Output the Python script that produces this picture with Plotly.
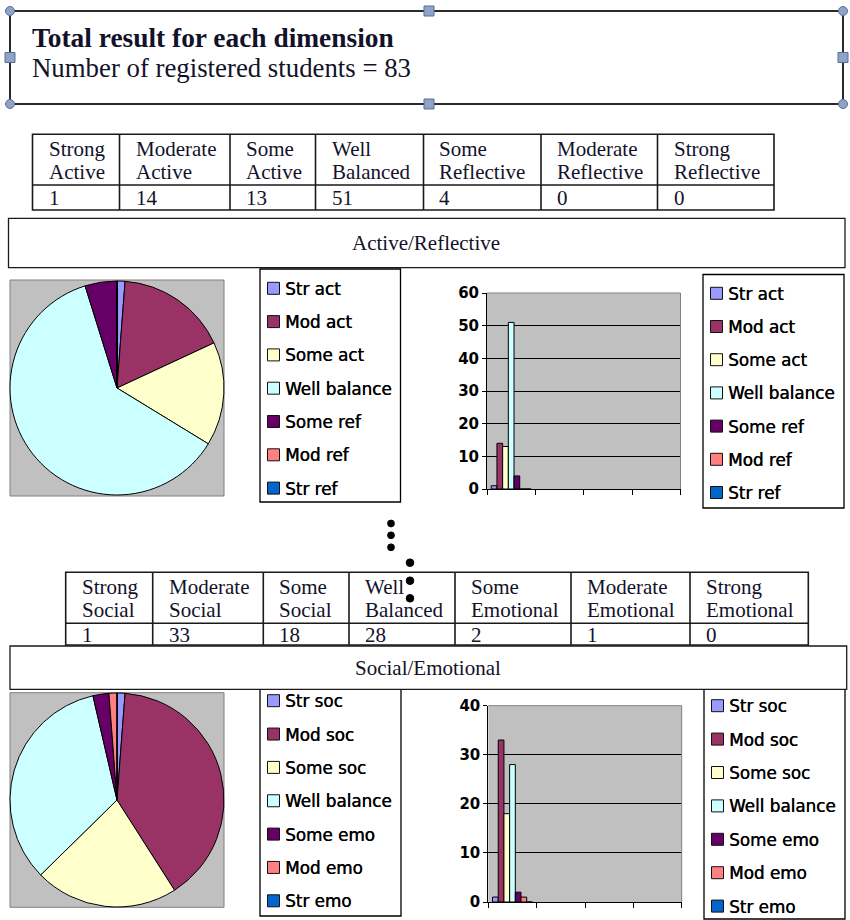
import plotly.graph_objects as go

W, H = 850, 920

# ---- data -------------------------------------------------------------
title_line = "Total result for each dimension"
subtitle_line = "Number of registered students = 83"

ar_name = "Active/Reflective"
ar_headers = [("Strong", "Active"), ("Moderate", "Active"), ("Some", "Active"),
              ("Well", "Balanced"), ("Some", "Reflective"),
              ("Moderate", "Reflective"), ("Strong", "Reflective")]
ar_labels = ["Str act", "Mod act", "Some act", "Well balance",
             "Some ref", "Mod ref", "Str ref"]
ar_counts = [1, 14, 13, 51, 4, 0, 0]

se_name = "Social/Emotional"
se_headers = [("Strong", "Social"), ("Moderate", "Social"), ("Some", "Social"),
              ("Well", "Balanced"), ("Some", "Emotional"),
              ("Moderate", "Emotional"), ("Strong", "Emotional")]
se_labels = ["Str soc", "Mod soc", "Some soc", "Well balance",
             "Some emo", "Mod emo", "Str emo"]
se_counts = [1, 33, 18, 28, 2, 1, 0]

ar_ymax = 60
se_ymax = 40

# ---- styling ----------------------------------------------------------
slice_colors = ["#9999FF", "#993366", "#FFFFCC", "#CCFFFF",
                "#660066", "#FF8080", "#0066CC"]
GREY = "#C0C0C0"
SERIF = "Liberation Serif"
SANS = "DejaVu Sans"
INK = "#12122a"


def fx(x):
    return x / W


def fy(y):
    return 1 - y / H


shapes = []
annotations = []


def rect(x0, y0, x1, y1, line="black", width=1.0, fill=None, layer="above"):
    shapes.append(dict(type="rect", xref="paper", yref="paper",
                       x0=fx(x0), x1=fx(x1), y0=fy(y1), y1=fy(y0),
                       line=dict(color=line, width=width),
                       fillcolor=fill if fill else "rgba(0,0,0,0)",
                       layer=layer))


def hline(x0, x1, y, color="black", width=1.0):
    shapes.append(dict(type="line", xref="paper", yref="paper",
                       x0=fx(x0), x1=fx(x1), y0=fy(y), y1=fy(y),
                       line=dict(color=color, width=width)))


def vline(x, y0, y1, color="black", width=1.0):
    shapes.append(dict(type="line", xref="paper", yref="paper",
                       x0=fx(x), x1=fx(x), y0=fy(y0), y1=fy(y1),
                       line=dict(color=color, width=width)))


def dot(cx, cy, r, color="black", line=None):
    shapes.append(dict(type="circle", xref="paper", yref="paper",
                       x0=fx(cx - r), x1=fx(cx + r), y0=fy(cy + r), y1=fy(cy - r),
                       fillcolor=color,
                       line=dict(color=line if line else color, width=1)))


def text(x, y, s, size, family=SERIF, color=INK, anchor="left",
         weight="normal", shadow="none"):
    annotations.append(dict(x=fx(x), y=fy(y), xref="paper", yref="paper",
                            text=s, showarrow=False, xanchor=anchor,
                            yanchor="middle",
                            font=dict(family=family, size=size, color=color,
                                      weight=weight, shadow=shadow)))


# ---- heading text box with selection handles --------------------------
rect(10, 11, 843, 104, line="#2a2a2a", width=2)
text(30, 37.5, "<b>" + title_line + "</b>", 27.4)
text(30, 67.5, subtitle_line, 26.8)
HANDLE_FILL, HANDLE_LINE = "#8EA3C6", "#5B6F94"
for hx, hy in [(10, 11), (843, 11), (10, 104), (843, 104)]:
    dot(hx, hy, 4.5, HANDLE_FILL, HANDLE_LINE)
for hx, hy in [(429, 11), (429, 104), (10, 57.5), (843, 57.5)]:
    rect(hx - 5, hy - 5, hx + 5, hy + 5, line=HANDLE_LINE, width=1, fill=HANDLE_FILL)


# ---- counts tables ----------------------------------------------------
def draw_table(cols, y_top, y_mid, y_bot, headers, counts):
    lw, lc = 1.6, "#1a1a1a"
    rect(cols[0], y_top, cols[-1], y_bot, line=lc, width=lw, fill="white")
    for cx in cols[1:-1]:
        vline(cx, y_top, y_bot, lc, lw)
    hline(cols[0], cols[-1], y_mid, lc, lw)
    for i, (h1, h2) in enumerate(headers):
        x = cols[i] + 14
        text(x, y_top + 14.5, h1, 21)
        text(x, y_top + 37.3, h2, 21)
        text(x, (y_mid + y_bot) / 2 + 0.8, str(counts[i]), 21)


draw_table([32.5, 119.5, 230, 315.5, 423.5, 541, 657.5, 774],
           134.3, 185, 210, ar_headers, ar_counts)

# ---- legends ----------------------------------------------------------
def draw_legend(x0, y0, x1, y1, first_y, step, labels):
    rect(x0, y0, x1, y1, line="black", width=1.3, fill="white")
    for i, lab in enumerate(labels):
        cy = first_y + i * step
        rect(x0 + 7.5, cy - 6, x0 + 19.5, cy + 6, line="#111111", width=1,
             fill=slice_colors[i])
        text(x0 + 23, cy + 0.5, lab, 16.8, family=SANS, color="black",
             shadow="0.4px 0px 0px #000000")


# section 1
rect(8.5, 218.3, 845, 267.7, line="#1a1a1a", width=1.3, fill="white")
text(426, 242.5, ar_name, 21, anchor="center")
rect(10, 280, 224, 496, line="#808080", width=1, fill=GREY, layer="below")
draw_legend(260, 269, 400.5, 502, 288.3, 33.3, ar_labels)
draw_legend(703, 274.5, 844, 508, 293.3, 33.2, ar_labels)

# continuation marks
for cy in (523.5, 535.3, 547.3):
    dot(391, cy, 3.4)

# section 2
draw_legend(260, 682, 401, 916, 700.7, 33.35, se_labels)
draw_legend(704, 682, 845, 919, 705.7, 33.4, se_labels)
draw_table([65.7, 152.7, 263.3, 349, 455, 571, 690, 808.3],
           572.3, 623.3, 645, se_headers, se_counts)
rect(10, 646, 846.7, 689.3, line="#1a1a1a", width=1.3, fill="white")
text(428, 668, se_name, 21, anchor="center")
rect(10, 692.7, 224, 907.3, line="#808080", width=1, fill=GREY, layer="below")
for cy in (562.7, 580.7, 598.3):
    dot(410, cy, 3.8)

# plot-area frame (top and right edges) for both column charts
for ax in ("", "2"):
    shapes.append(dict(type="line", xref="x%s domain" % ax, yref="y%s domain" % ax,
                       x0=0, x1=1, y0=1, y1=1, line=dict(color="#808080", width=1)))
    shapes.append(dict(type="line", xref="x%s domain" % ax, yref="y%s domain" % ax,
                       x0=1, x1=1, y0=0, y1=1, line=dict(color="#808080", width=1)))

# ---- traces -----------------------------------------------------------
fig = go.Figure()

pie_common = dict(sort=False, direction="clockwise", rotation=0,
                  textinfo="none", showlegend=False, automargin=False,
                  marker=dict(colors=slice_colors, line=dict(color="black", width=1)))
fig.add_trace(go.Pie(labels=ar_labels, values=ar_counts,
                     domain=dict(x=[fx(10), fx(224)], y=[fy(496), fy(280)]),
                     **pie_common))
fig.add_trace(go.Pie(labels=se_labels, values=se_counts,
                     domain=dict(x=[fx(10), fx(224)], y=[fy(907.3), fy(692.7)]),
                     **pie_common))

for i in range(len(ar_labels)):
    fig.add_trace(go.Bar(x=[0], y=[ar_counts[i]], name=ar_labels[i],
                         marker=dict(color=slice_colors[i],
                                     line=dict(color="black", width=1)),
                         xaxis="x", yaxis="y", showlegend=False))
for i in range(len(se_labels)):
    fig.add_trace(go.Bar(x=[0], y=[se_counts[i]], name=se_labels[i],
                         marker=dict(color=slice_colors[i],
                                     line=dict(color="black", width=1)),
                         xaxis="x2", yaxis="y2", showlegend=False))

xcommon = dict(range=[-0.5, 3.5], tickvals=[-0.5, 0.5, 1.5, 2.5, 3.5],
               ticks="outside", ticklen=5, tickcolor="black",
               showticklabels=False, showline=True, linecolor="black",
               linewidth=1, showgrid=False, zeroline=False, fixedrange=True,
               automargin=False)
ycommon = dict(dtick=10, ticks="outside", ticklen=4, tickcolor="black",
               showline=True, linecolor="black", linewidth=1,
               showgrid=True, gridcolor="black", gridwidth=1, zeroline=False,
               tickfont=dict(family=SANS, size=15, color="black", weight="bold"),
               fixedrange=True, automargin=False)

fig.update_layout(
    width=W, height=H,
    margin=dict(l=0, r=0, t=0, b=0, pad=0, autoexpand=False),
    paper_bgcolor="white", plot_bgcolor=GREY,
    showlegend=False,
    barmode="group", bargap=0.176, bargroupgap=0,
    xaxis=dict(domain=[fx(487), fx(680.5)], anchor="y", **xcommon),
    yaxis=dict(domain=[fy(489), fy(293)], range=[0, ar_ymax], anchor="x", **ycommon),
    xaxis2=dict(domain=[fx(488.3), fx(681.7)], anchor="y2", **xcommon),
    yaxis2=dict(domain=[fy(902), fy(705.7)], range=[0, se_ymax], anchor="x2", **ycommon),
    shapes=shapes,
    annotations=annotations,
)

fig.write_html("out.html")
